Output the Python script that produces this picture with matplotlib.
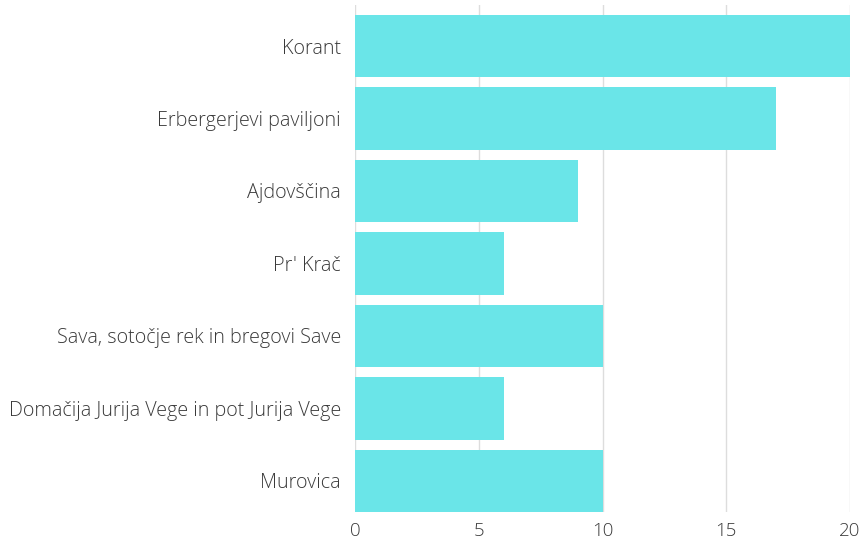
import numpy as np
import matplotlib.pyplot as plt

plt.rcParams['font.family'] = ['Open Sans', 'DejaVu Sans']

categories = ['Korant', 'Erbergerjevi paviljoni', 'Ajdovščina', "Pr' Krač",
              'Sava, sotočje rek in bregovi Save',
              'Domačija Jurija Vege in pot Jurija Vege', 'Murovica']
values = [20, 17, 9, 6, 10, 6, 10]
xticks = [0, 5, 10, 15, 20]

fig = plt.figure(figsize=(8.66, 5.42), dpi=100)
ax = fig.add_axes([355 / 866, 1 - 512 / 542, (850 - 355) / 866, (512 - 4.7) / 542])

y = np.arange(len(categories))
ax.barh(y, values, height=0.86, color='#6ae5e8', zorder=2)

ax.set_xlim(0, 20)
ax.set_ylim(6.43, -0.57)
ax.set_yticks(y)
ax.set_yticklabels(categories, fontsize=14.2, color='#3a3a3a', fontweight='light')
ax.set_xticks(xticks)
ax.set_xticklabels([str(t) for t in xticks], fontsize=13.5, color='#3a3a3a', fontweight='light')
ax.tick_params(axis='y', length=0, pad=10)
ax.tick_params(axis='x', length=0, pad=7)
ax.grid(axis='x', color='#dddddd', linewidth=1, zorder=0)
for s in ax.spines.values():
    s.set_visible(False)

plt.savefig('out.png', dpi=100)
